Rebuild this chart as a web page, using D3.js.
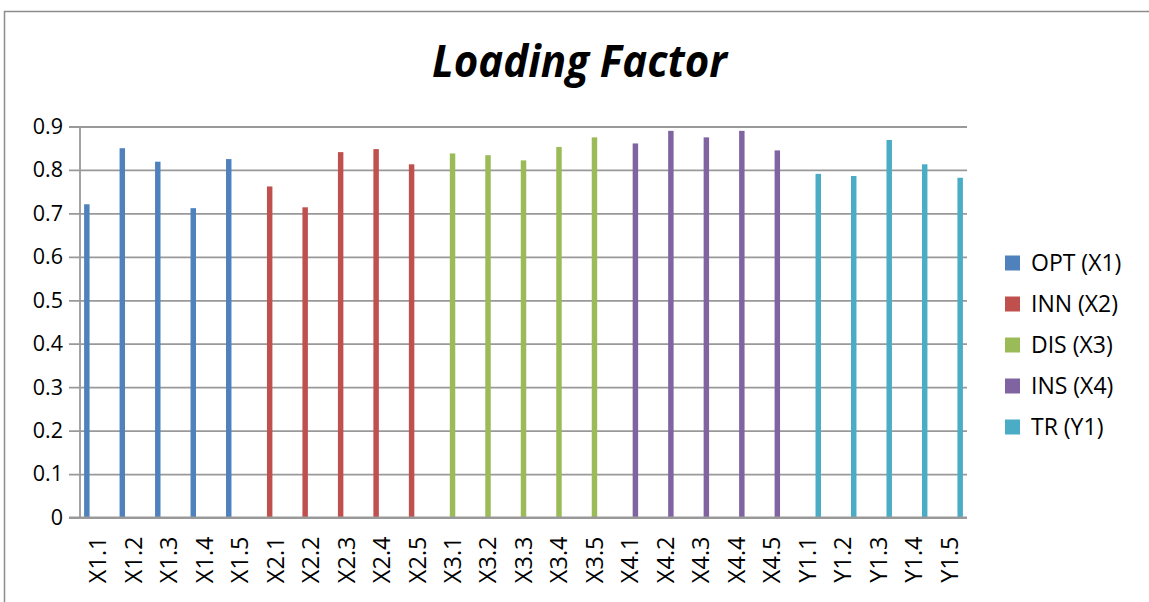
<!DOCTYPE html>
<html>
<head>
<meta charset="utf-8">
<script src="https://cdn.jsdelivr.net/npm/d3@7"></script>
<style>
html,body{margin:0;padding:0;background:#fff;}
svg{display:block;}
</style>
</head>
<body>
<svg id="chart" width="1149" height="602"></svg>
<script>
const categories = ["X1.1","X1.2","X1.3","X1.4","X1.5","X2.1","X2.2","X2.3","X2.4","X2.5","X3.1","X3.2","X3.3","X3.4","X3.5","X4.1","X4.2","X4.3","X4.4","X4.5","Y1.1","Y1.2","Y1.3","Y1.4","Y1.5"];
const seriesNames = ["OPT (X1)","INN (X2)","DIS (X3)","INS (X4)","TR (Y1)"];
const seriesColors = ["#4F81BD","#C0504D","#9BBB59","#8064A2","#4BACC6"];
const optValues = [0.721,0.850,0.819,0.712,0.825];
const innValues = [0.762,0.714,0.841,0.848,0.813];
const disValues = [0.838,0.834,0.822,0.853,0.875];
const insValues = [0.861,0.890,0.875,0.890,0.845];
const trValues  = [0.791,0.786,0.869,0.813,0.782];
const yTicks = [0,0.1,0.2,0.3,0.4,0.5,0.6,0.7,0.8,0.9];
const chartTitle = "Loading Factor";

const seriesValues = [optValues, innValues, disValues, insValues, trValues];
const bars = [];
seriesValues.forEach((vals, si) => {
  vals.forEach((v, i) => bars.push({cat: categories[si*5+i], series: seriesNames[si], value: v, color: seriesColors[si]}));
});

const svg = d3.select("#chart");
const pLeft = 80, pRight = 967, pTop = 126.5, pBottom = 517.5;

// outer frame
svg.append("rect").attr("x",4.5).attr("y",11.5).attr("width",1200).attr("height",700)
  .attr("fill","none").attr("stroke","#8c8c8c").attr("stroke-width",1.5);

const x = d3.scaleBand().domain(categories).range([pLeft,pRight]).paddingInner(0).paddingOuter(0);
const xs = d3.scaleBand().domain(seriesNames).range([0,x.bandwidth()]).paddingInner(0).paddingOuter(0.75);
const y = d3.scaleLinear().domain([0,0.9]).range([pBottom,pTop]);

// gridlines + ticks
const yAxis = d3.axisLeft(y).tickValues(yTicks).tickSize(-(pRight-pLeft)).tickSizeOuter(0)
  .tickFormat(d => d===0 ? "0" : d3.format(".1f")(d)).tickPadding(6);
const gy = svg.append("g").attr("transform",`translate(${pLeft},0)`).call(yAxis);
gy.select(".domain").remove();
gy.selectAll(".tick line").attr("x1",-11).attr("stroke","#999").attr("stroke-width",1.8);
gy.selectAll(".tick text").attr("x",-17).attr("font-family","'Open Sans', sans-serif")
  .attr("font-size",21.5).attr("fill","#000");

// vertical axis line
svg.append("line").attr("x1",pLeft).attr("x2",pLeft).attr("y1",pTop).attr("y2",pBottom)
  .attr("stroke","#999").attr("stroke-width",1.8);

// bars
svg.append("g").selectAll("rect").data(bars).join("rect")
  .attr("x", d => x(d.cat) + xs(d.series))
  .attr("width", xs.bandwidth())
  .attr("y", d => y(d.value))
  .attr("height", d => y(0) - y(d.value))
  .attr("fill", d => d.color);

// x axis baseline
svg.append("line").attr("x1",69).attr("x2",pRight).attr("y1",pBottom).attr("y2",pBottom)
  .attr("stroke","#999").attr("stroke-width",1.8);

// x labels
const xAxis = d3.axisBottom(x).tickSize(0).tickSizeOuter(0);
const gx = svg.append("g").attr("transform",`translate(0,${pBottom})`).call(xAxis);
gx.select(".domain").remove();
gx.selectAll(".tick text")
  .attr("font-family","'Open Sans', sans-serif").attr("font-size",23.5).attr("fill","#000")
  .attr("transform","rotate(-90)")
  .attr("text-anchor","end")
  .attr("x",-19).attr("y",0).attr("dy","0.36em");

// title
svg.append("text").attr("x",579.5).attr("y",77).attr("text-anchor","middle")
  .attr("font-family","'Open Sans', sans-serif").attr("font-weight","bold").attr("font-style","italic")
  .attr("font-size",44).attr("textLength",295).attr("lengthAdjust","spacingAndGlyphs")
  .attr("fill","#000").text(chartTitle);

// legend
const lg = svg.append("g");
const legendY = d3.scalePoint().domain(seriesNames).range([263,427]);
seriesNames.forEach((name, i) => {
  const cy = legendY(name);
  lg.append("rect").attr("x",1005).attr("y",cy-7.5).attr("width",15).attr("height",15).attr("fill",seriesColors[i]);
  lg.append("text").attr("x",1031).attr("y",cy).attr("dy","0.36em")
    .attr("font-family","'Open Sans', sans-serif").attr("font-size",23).attr("fill","#000").text(name);
});
</script>
</body>
</html>
